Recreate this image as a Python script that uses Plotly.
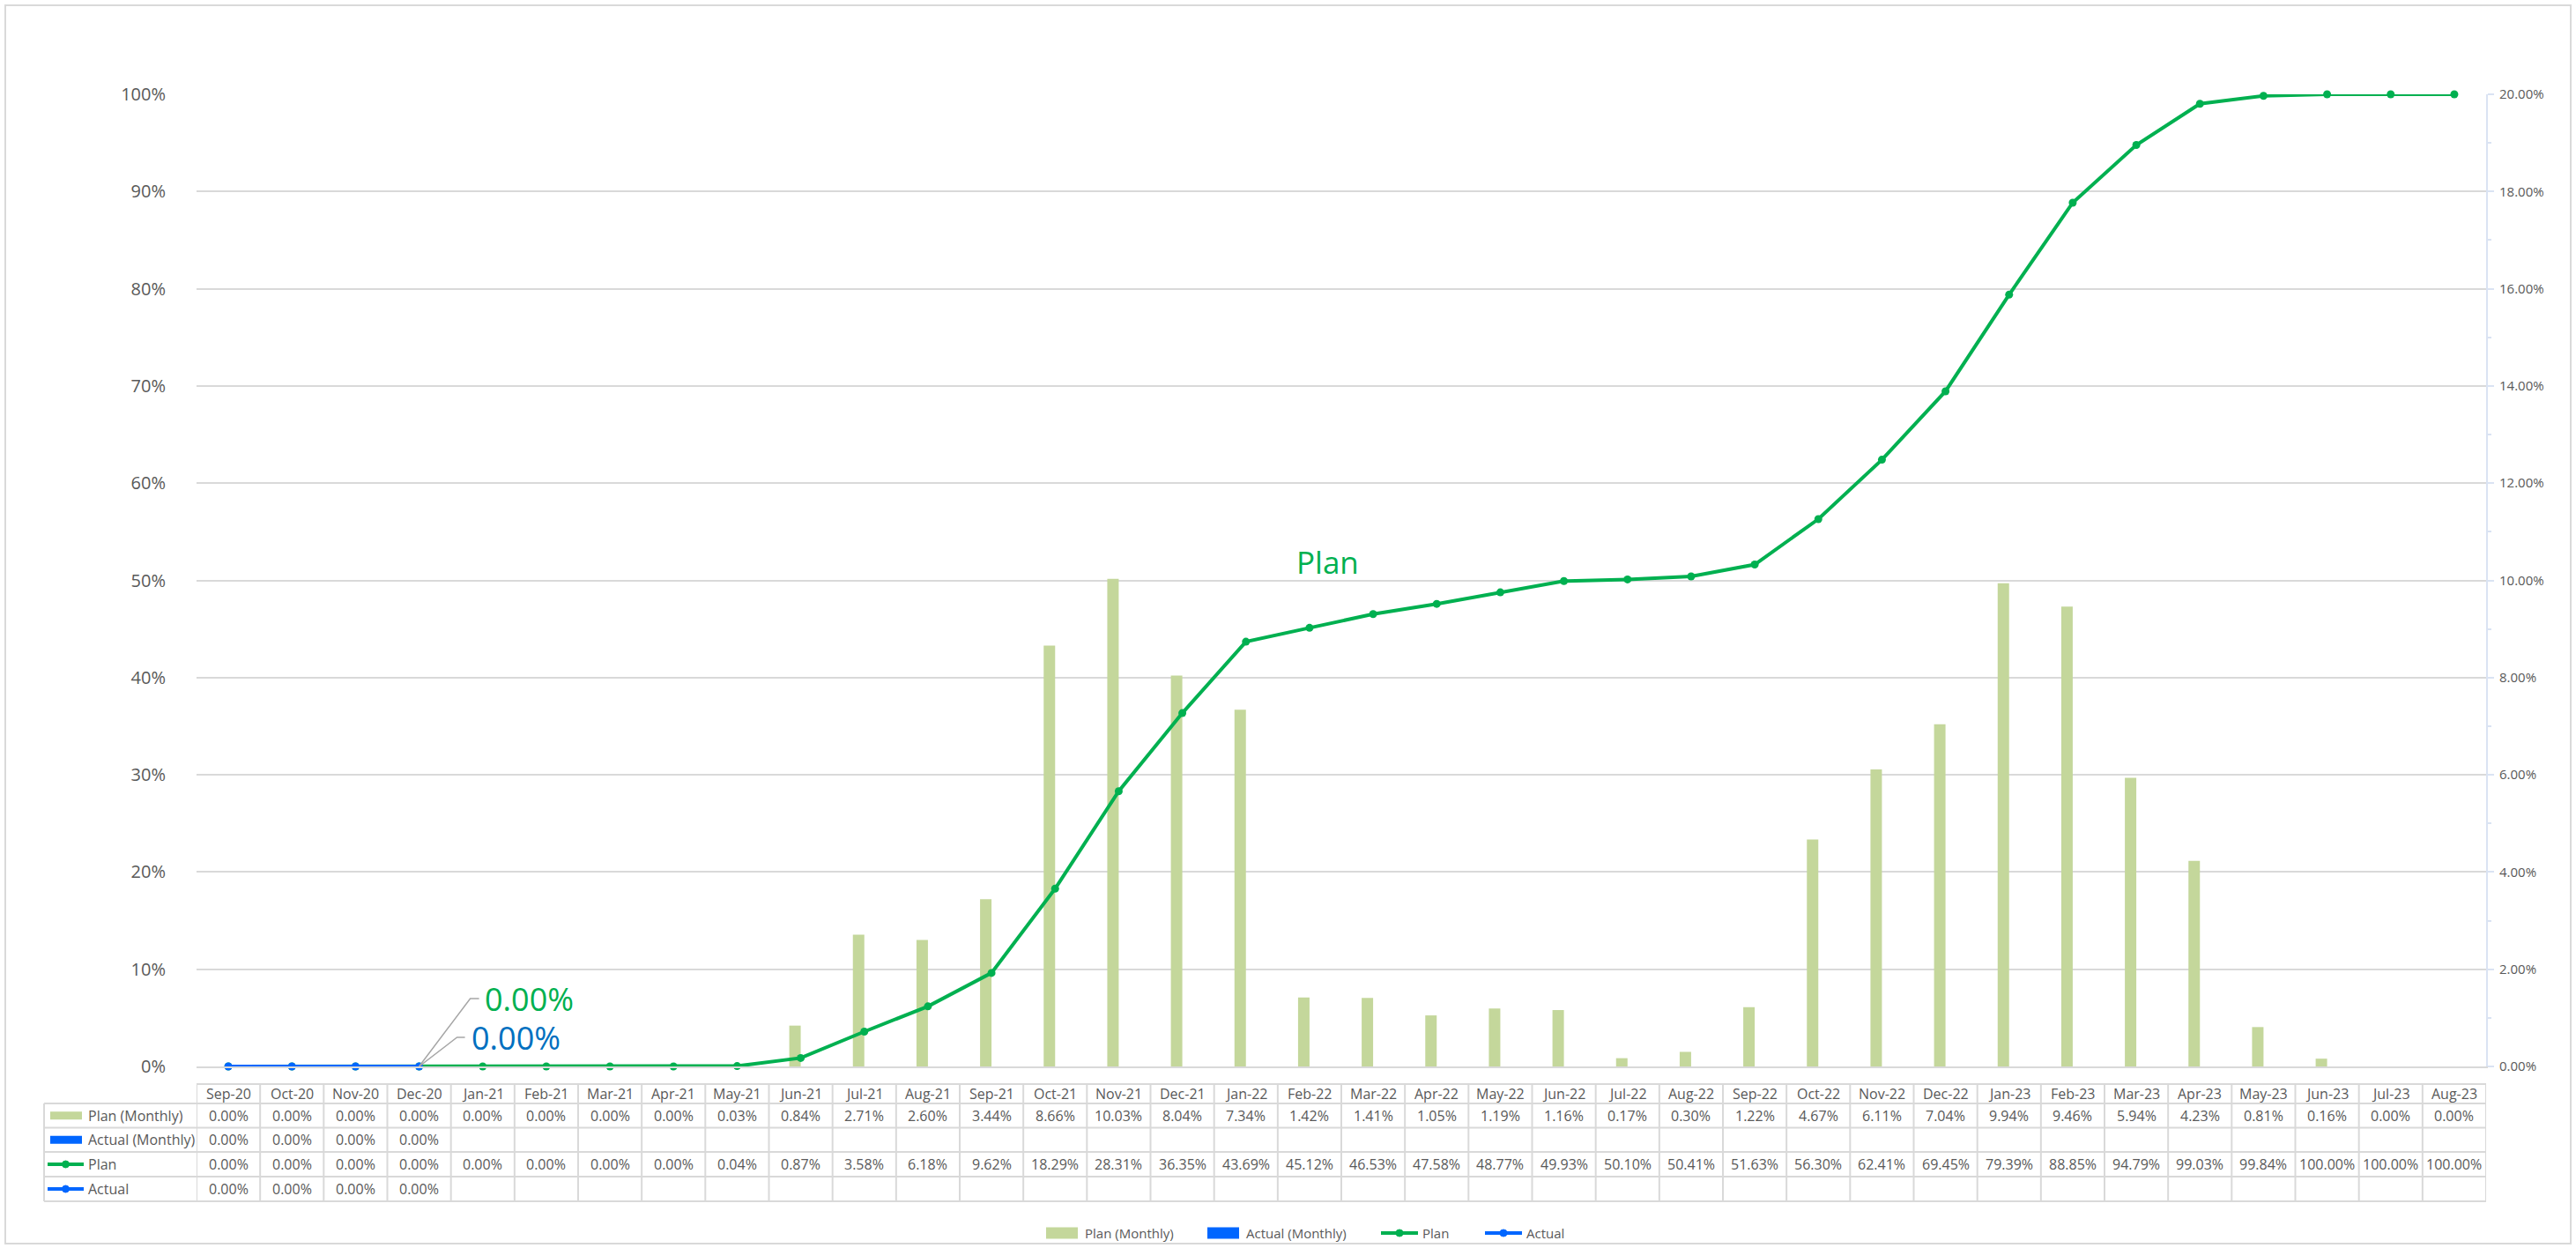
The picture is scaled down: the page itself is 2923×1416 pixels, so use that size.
import plotly.graph_objects as go

# ---------------- data ----------------
months = ["Sep-20", "Oct-20", "Nov-20", "Dec-20", "Jan-21", "Feb-21", "Mar-21", "Apr-21",
          "May-21", "Jun-21", "Jul-21", "Aug-21", "Sep-21", "Oct-21", "Nov-21", "Dec-21",
          "Jan-22", "Feb-22", "Mar-22", "Apr-22", "May-22", "Jun-22", "Jul-22", "Aug-22",
          "Sep-22", "Oct-22", "Nov-22", "Dec-22", "Jan-23", "Feb-23", "Mar-23", "Apr-23",
          "May-23", "Jun-23", "Jul-23", "Aug-23"]

plan_monthly = [0.00, 0.00, 0.00, 0.00, 0.00, 0.00, 0.00, 0.00, 0.03, 0.84, 2.71, 2.60,
                3.44, 8.66, 10.03, 8.04, 7.34, 1.42, 1.41, 1.05, 1.19, 1.16, 0.17, 0.30,
                1.22, 4.67, 6.11, 7.04, 9.94, 9.46, 5.94, 4.23, 0.81, 0.16, 0.00, 0.00]

actual_monthly = [0.00, 0.00, 0.00, 0.00]

plan_cum = [0.00, 0.00, 0.00, 0.00, 0.00, 0.00, 0.00, 0.00, 0.04, 0.87, 3.58, 6.18,
            9.62, 18.29, 28.31, 36.35, 43.69, 45.12, 46.53, 47.58, 48.77, 49.93, 50.10, 50.41,
            51.63, 56.30, 62.41, 69.45, 79.39, 88.85, 94.79, 99.03, 99.84, 100.00, 100.00, 100.00]

actual_cum = [0.00, 0.00, 0.00, 0.00]

series_names = ["Plan (Monthly)", "Actual (Monthly)", "Plan", "Actual"]
left_ticks = [0, 10, 20, 30, 40, 50, 60, 70, 80, 90, 100]
left_ticktext = ["0%", "10%", "20%", "30%", "40%", "50%", "60%", "70%", "80%", "90%", "100%"]
right_ticks = [0, 2, 4, 6, 8, 10, 12, 14, 16, 18, 20]
right_ticktext = ["0.00%", "2.00%", "4.00%", "6.00%", "8.00%", "10.00%", "12.00%", "14.00%",
                  "16.00%", "18.00%", "20.00%"]

# ---------------- style ----------------
C_PLAN_BAR = "#C4D79B"
C_ACT_BAR = "#0066FF"
C_PLAN = "#00B050"
C_ACT = "#0066FF"
C_ACT_LABEL = "#0070C0"
C_TEXT = "#595959"
C_GRID = "#D9D9D9"
FONT = "Open Sans, Noto Sans, sans-serif"

W, H = 2923, 1416
L, R, T, B = 223, 2821, 107, 1210
PW, PH = R - L, B - T


def px(p):
    return (p - L) / PW


def py(p):
    return (B - p) / PH


fig = go.Figure()

fig.add_trace(go.Bar(x=months, y=plan_monthly, name=series_names[0],
                     marker=dict(color=C_PLAN_BAR, line=dict(width=0)), yaxis="y"))
fig.add_trace(go.Bar(x=months[:len(actual_monthly)], y=actual_monthly, name=series_names[1],
                     marker=dict(color=C_ACT_BAR, line=dict(width=0)), yaxis="y"))
fig.add_trace(go.Scatter(x=months, y=plan_cum, name=series_names[2], mode="lines+markers",
                         line=dict(color=C_PLAN, width=4), marker=dict(size=9, color=C_PLAN),
                         yaxis="y2", cliponaxis=False))
fig.add_trace(go.Scatter(x=months[:len(actual_cum)], y=actual_cum, name=series_names[3],
                         mode="lines+markers", line=dict(color=C_ACT, width=4),
                         marker=dict(size=9, color=C_ACT), yaxis="y2", cliponaxis=False))

shapes = []
annotations = []

# ---------------- data table ----------------
row_edges = [1230, 1252, 1279.5, 1307, 1335, 1363]
row_centers = [(row_edges[k] + row_edges[k + 1]) / 2 for k in range(5)]
tbl_left = 50
line_style = dict(color=C_GRID, width=2)

shapes.append(dict(type="line", xref="x", yref="paper", x0=-0.5, x1=len(months) - 0.5,
                   y0=py(row_edges[0]), y1=py(row_edges[0]), line=line_style))
for e in row_edges[1:]:
    shapes.append(dict(type="line", xref="paper", yref="paper", x0=px(tbl_left), x1=1,
                       y0=py(e), y1=py(e), line=line_style))
for i in range(len(months) + 1):
    shapes.append(dict(type="line", xref="x", yref="paper", x0=i - 0.5, x1=i - 0.5,
                       y0=py(row_edges[0]), y1=py(row_edges[-1]), line=line_style))
shapes.append(dict(type="line", xref="paper", yref="paper", x0=px(tbl_left), x1=px(tbl_left),
                   y0=py(row_edges[1]), y1=py(row_edges[-1]), line=line_style))

tfont = dict(family=FONT, size=16, color=C_TEXT)
for i, m in enumerate(months):
    annotations.append(dict(text=m, x=m, xref="x", y=py(row_centers[0]), yref="paper",
                            showarrow=False, font=tfont, xanchor="center", yanchor="middle"))

table_rows = [plan_monthly, actual_monthly, plan_cum, actual_cum]
for r, vals in enumerate(table_rows):
    yc = py(row_centers[r + 1])
    for i, v in enumerate(vals):
        annotations.append(dict(text=f"{v:.2f}%", x=months[i], xref="x", y=yc, yref="paper",
                                showarrow=False, font=tfont, xanchor="center", yanchor="middle"))
    annotations.append(dict(text=series_names[r], x=px(98), xref="paper", y=yc, yref="paper",
                            showarrow=False, font=tfont, xanchor="left", yanchor="middle"))


def legend_key(kind, col, x0, x1, yc, h):
    if kind == "bar":
        shapes.append(dict(type="rect", xref="paper", yref="paper", x0=px(x0), x1=px(x1),
                           y0=py(yc + h / 2), y1=py(yc - h / 2), fillcolor=col, line=dict(width=0)))
    else:
        xm = (x0 + x1) / 2
        shapes.append(dict(type="line", xref="paper", yref="paper", x0=px(x0), x1=px(x1),
                           y0=py(yc), y1=py(yc), line=dict(color=col, width=4)))
        shapes.append(dict(type="circle", xref="paper", yref="paper", x0=px(xm - 4), x1=px(xm + 4),
                           y0=py(yc + 4), y1=py(yc - 4), fillcolor=col, line=dict(color=col, width=1)))


kinds = ["bar", "bar", "line", "line"]
colors = [C_PLAN_BAR, C_ACT_BAR, C_PLAN, C_ACT]

# keys inside the table
for r in range(4):
    if kinds[r] == "bar":
        legend_key("bar", colors[r], 57, 93, row_centers[r + 1], 9)
    else:
        legend_key("line", colors[r], 54, 95, row_centers[r + 1], 0)

# bottom legend (Excel style)
leg_y = 1399
leg_key_x = [1187, 1370, 1567, 1685]
lfont = dict(family=FONT, size=15, color=C_TEXT)
for k in range(4):
    x0 = leg_key_x[k]
    if kinds[k] == "bar":
        legend_key("bar", colors[k], x0, x0 + 36, leg_y, 13)
    else:
        legend_key("line", colors[k], x0, x0 + 42, leg_y, 0)
    annotations.append(dict(text=series_names[k], x=px(x0 + 42 if kinds[k] == "bar" else x0 + 45),
                            xref="paper", y=py(leg_y), yref="paper", showarrow=False,
                            font=lfont, xanchor="left", yanchor="middle"))

# ---------------- data labels ----------------
lab_font = 36
annotations.append(dict(text=f"{plan_cum[3]:.2f}%", x=months[3], xref="x", y=plan_cum[3], yref="y2",
                        xshift=72, yshift=77, xanchor="left", yanchor="middle", showarrow=False,
                        font=dict(family=FONT, size=lab_font, color=C_PLAN)))
annotations.append(dict(text=f"{actual_cum[3]:.2f}%", x=months[3], xref="x", y=actual_cum[3], yref="y2",
                        xshift=57, yshift=33, xanchor="left", yanchor="middle", showarrow=False,
                        font=dict(family=FONT, size=lab_font, color=C_ACT_LABEL)))
annotations.append(dict(text=series_names[2], x=months[17], xref="x", y=plan_cum[17], yref="y2",
                        xshift=21, yshift=75, xanchor="center", yanchor="middle", showarrow=False,
                        font=dict(family=FONT, size=35, color=C_PLAN)))

shapes.append(dict(type="path", xref="x", yref="y2", xsizemode="pixel", ysizemode="pixel",
                   xanchor=months[3], yanchor=plan_cum[3], path="M0,0L58,77L68,77",
                   line=dict(color="#A6A6A6", width=1.5)))
shapes.append(dict(type="path", xref="x", yref="y2", xsizemode="pixel", ysizemode="pixel",
                   xanchor=months[3], yanchor=actual_cum[3], path="M0,0L43,33L52,33",
                   line=dict(color="#A6A6A6", width=1.5)))

# chart border
shapes.append(dict(type="rect", xref="paper", yref="paper", x0=px(6), x1=px(2917),
                   y0=py(1411), y1=py(6), line=dict(color=C_GRID, width=2), layer="below"))

fig.update_layout(
    width=W, height=H, autosize=False,
    margin=dict(l=L, r=W - R, t=T, b=H - B, pad=0),
    paper_bgcolor="white", plot_bgcolor="white",
    font=dict(family=FONT, color=C_TEXT),
    showlegend=False,
    barmode="group", bargap=0.64, bargroupgap=0,
    xaxis=dict(type="category", categoryorder="array", categoryarray=months,
               range=[-0.5, len(months) - 0.5], showticklabels=False, showgrid=False,
               showline=True, linecolor=C_GRID, linewidth=2, ticks="", zeroline=False),
    yaxis=dict(side="right", range=[0, 20], tickmode="array", tickvals=right_ticks,
               ticktext=right_ticktext,
               showgrid=True, gridcolor=C_GRID, gridwidth=2, zeroline=False,
               showline=True, linecolor="#DAE3F3", linewidth=2,
               ticks="outside", ticklen=7, tickwidth=2, tickcolor="#DAE3F3",
               minor=dict(ticks="outside", ticklen=4, dtick=1, tickwidth=2,
                          tickcolor="#DAE3F3", showgrid=False),
               tickfont=dict(family=FONT, size=15, color=C_TEXT), ticklabelstandoff=3),
    yaxis2=dict(overlaying="y", side="left", range=[0, 100], tickmode="array", tickvals=left_ticks,
                ticktext=left_ticktext,
                showgrid=False, zeroline=False, showline=False, ticks="",
                tickfont=dict(family=FONT, size=20, color=C_TEXT), ticklabelstandoff=34),
    shapes=shapes,
    annotations=annotations,
)

fig.write_html("out.html", config={"displayModeBar": False, "responsive": False},
               post_script="document.body.style.margin='0';")
